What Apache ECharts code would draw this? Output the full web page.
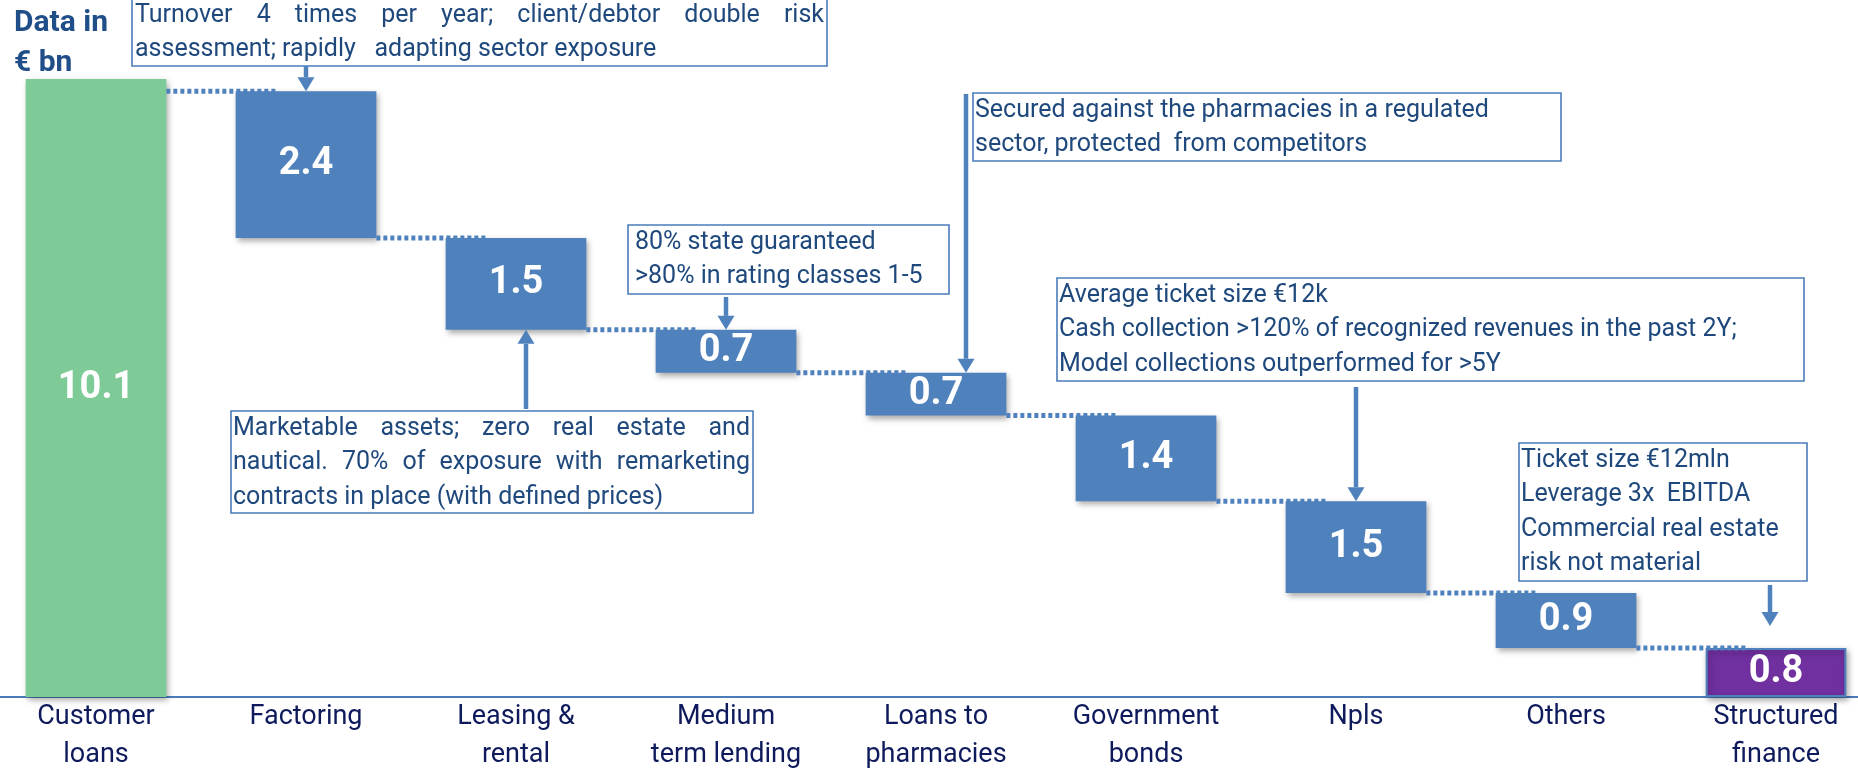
<!DOCTYPE html>
<html>
<head>
<meta charset="utf-8">
<title>Customer loans breakdown</title>
<script src="https://cdn.jsdelivr.net/npm/echarts@6/dist/echarts.min.js"></script>
<style>
  html, body { margin: 0; padding: 0; background: #ffffff; }
  #chart { width: 1858px; height: 768px; }
</style>
</head>
<body>
<div id="chart"></div>
<script>
// ---- data (€ bn) ----
const categories = [
  'Customer\nloans', 'Factoring', 'Leasing &\nrental', 'Medium\nterm lending',
  'Loans to\npharmacies', 'Government\nbonds', 'Npls', 'Others', 'Structured\nfinance'
];
const values = [10.1, 2.4, 1.5, 0.7, 0.7, 1.4, 1.5, 0.9, 0.8];

// callout texts, one entry per annotated bar
const noteBars = [1, 2, 3, 4, 6, 8];
const noteLines = [
  ['Turnover 4 times per year; client/debtor double risk', 'assessment; rapidly   adapting sector exposure'],
  ['Marketable assets; zero real estate and', 'nautical. 70% of exposure with remarketing', 'contracts in place (with defined prices)'],
  ['80% state guaranteed', '>80% in rating classes 1-5'],
  ['Secured against the pharmacies in a regulated', 'sector, protected  from competitors'],
  ['Average ticket size €12k', 'Cash collection >120% of recognized revenues in the past 2Y;', 'Model collections outperformed for >5Y'],
  ['Ticket size €12mln', 'Leverage 3x  EBITDA', 'Commercial real estate', 'risk not material']
];
const noteJustify = [[true, false], [true, true, false], [], [], [], []];

// ---- derived waterfall geometry ----
// the first bar is the total; every step sits on the sum of the steps after it
const bases = values.map((v, i) => i === 0 ? 0 : values.slice(i + 1).reduce((a, b) => a + b, 0));
const tops = values.map((v, i) => bases[i] + v);
// connector k joins bar k to bar k+1 at the top of bar k+1
const links = values.slice(1).map((v, k) => [k, tops[k + 1]]);

// ---- layout / style ----
const BLUE = '#4f81bd';
const GREEN = '#7fcb97';
const PURPLE = '#7030a0';
const NOTE_TEXT = '#1f497d';
const AXIS_TEXT = '#0e1a5c';
const BAR_RATIO = 0.67;
const FONT = 'Roboto, "Noto Sans", sans-serif';
const NOTE_SIZE = 25;
const NOTE_STEP = 34.5;

// callout boxes (pixels) and their arrows
const noteLayout = [
  { x: 132, y: -2, w: 695, h: 68, pad: 3, dir: 'down', dx: 0, y0: 66, gap: 0 },
  { x: 231, y: 411, w: 522, h: 102, pad: 2, dir: 'up', dx: 10, y0: 409, gap: 0 },
  { x: 628, y: 225, w: 321, h: 69, pad: 7, dir: 'down', dx: 0, y0: 297, gap: 0 },
  { x: 973, y: 93, w: 588, h: 68, pad: 2, dir: 'down', dx: 30, y0: 94, gap: 0 },
  { x: 1057, y: 278, w: 747, h: 103, pad: 2, dir: 'down', dx: 0, y0: 387, gap: 0 },
  { x: 1519, y: 443, w: 288, h: 138, pad: 2, dir: 'down', dx: -6, y0: 585, gap: 22 }
];

function barColor(i) {
  if (i === 0) return GREEN;
  if (i === values.length - 1) return PURPLE;
  return BLUE;
}

const chart = echarts.init(document.getElementById('chart'), null, { renderer: 'canvas' });

chart.setOption({
  animation: false,
  backgroundColor: '#ffffff',
  grid: { left: -9, right: -23, top: 79, bottom: 71, containLabel: false, outerBoundsMode: 'none' },
  xAxis: {
    type: 'category',
    data: categories,
    axisLine: { show: true, lineStyle: { color: '#4a7cbb', width: 2 } },
    axisTick: { show: false },
    axisLabel: {
      interval: 0,
      margin: 1,
      color: AXIS_TEXT,
      fontFamily: FONT,
      fontSize: 27,
      lineHeight: 38
    }
  },
  yAxis: {
    type: 'value',
    min: 0,
    max: 'dataMax',
    show: false,
    splitLine: { show: false }
  },
  series: [
    {
      name: 'base',
      type: 'bar',
      stack: 'fall',
      barWidth: (BAR_RATIO * 100) + '%',
      silent: true,
      itemStyle: { color: 'transparent' },
      data: bases
    },
    {
      name: 'value',
      type: 'bar',
      stack: 'fall',
      barWidth: (BAR_RATIO * 100) + '%',
      data: values.map((v, i) => ({
        value: v,
        itemStyle: {
          color: barColor(i),
          borderColor: i === values.length - 1 ? BLUE : barColor(i),
          borderWidth: i === values.length - 1 ? 2 : 0,
          shadowColor: 'rgba(0,0,0,0.35)',
          shadowBlur: 6,
          shadowOffsetX: 2,
          shadowOffsetY: 3
        }
      })),
      label: {
        show: true,
        position: 'inside',
        color: '#ffffff',
        fontFamily: FONT,
        fontWeight: 'bold',
        fontSize: 38,
        formatter: p => values[p.dataIndex].toFixed(1)
      }
    },
    {
      name: 'links',
      type: 'custom',
      z: 3,
      silent: true,
      encode: { x: 0, y: 1 },
      data: links,
      renderItem(params, api) {
        const k = api.value(0);
        const lvl = api.value(1);
        const a = api.coord([k, lvl]);
        const b = api.coord([k + 1, lvl]);
        const half = api.size([1, 0])[0] * BAR_RATIO / 2;
        return {
          type: 'line',
          shape: { x1: a[0] + half, y1: a[1], x2: b[0] - half + 40, y2: b[1] },
          style: { stroke: BLUE, lineWidth: 5, lineDash: [4, 3] }
        };
      }
    }
  ]
});

// ---- callouts ----
const measureCtx = document.createElement('canvas').getContext('2d');
function textWidth(str) {
  measureCtx.font = NOTE_SIZE + 'px ' + FONT;
  return measureCtx.measureText(str).width;
}

function noteText(str, x, y) {
  return {
    type: 'text', z: 101,
    style: {
      text: str, x: x, y: y,
      fontFamily: FONT, fontSize: NOTE_SIZE,
      fill: NOTE_TEXT, verticalAlign: 'middle', align: 'left'
    }
  };
}

// a line spread word by word across the full box width
function justifiedLine(str, x, y, width) {
  const words = str.split(/\s+/);
  const widths = words.map(textWidth);
  const total = widths.reduce((a, b) => a + b, 0);
  const gap = (width - total) / (words.length - 1);
  const out = [];
  let cx = x;
  words.forEach((w, i) => {
    out.push(noteText(w, cx, y));
    cx += widths[i] + gap;
  });
  return out;
}

function arrow(x, yFrom, yTip) {
  const dirSign = yTip > yFrom ? 1 : -1;
  const headLen = 14;
  const headHalf = 8.5;
  const baseY = yTip - dirSign * headLen;
  return [
    {
      type: 'line', z: 100,
      shape: { x1: x, y1: yFrom, x2: x, y2: baseY },
      style: { stroke: BLUE, lineWidth: 4.5 }
    },
    {
      type: 'polygon', z: 100,
      shape: { points: [[x - headHalf, baseY], [x + headHalf, baseY], [x, yTip]] },
      style: { fill: BLUE }
    }
  ];
}

function buildGraphics() {
  const g = [];
  // unit caption
  g.push({
    type: 'text', z: 101,
    style: {
      text: 'Data in\n€ bn', x: 14, y: 3,
      fontFamily: FONT, fontSize: 30, fontWeight: 'bold',
      lineHeight: 40, fill: '#1f4e89', verticalAlign: 'top', align: 'left'
    }
  });

  noteBars.forEach((bar, n) => {
    const L = noteLayout[n];
    g.push({
      type: 'rect', z: 100,
      shape: { x: L.x, y: L.y, width: L.w, height: L.h },
      style: { fill: '#ffffff', stroke: '#4a7cbb', lineWidth: 1.6 }
    });
    noteLines[n].forEach((line, j) => {
      const ty = L.y + 17.5 + j * NOTE_STEP;
      const tx = L.x + L.pad;
      if (noteJustify[n][j]) {
        justifiedLine(line, tx, ty, L.w - L.pad - 3).forEach(e => g.push(e));
      } else {
        g.push(noteText(line, tx, ty));
      }
    });

    const anchorValue = L.dir === 'down' ? tops[bar] : bases[bar];
    const p = chart.convertToPixel({ gridIndex: 0 }, [bar, anchorValue]);
    const tipY = L.dir === 'down' ? p[1] - L.gap : p[1] + L.gap;
    arrow(p[0] + L.dx, L.y0, tipY).forEach(e => g.push(e));
  });
  return g;
}

chart.setOption({ graphic: buildGraphics() });
</script>
</body>
</html>
